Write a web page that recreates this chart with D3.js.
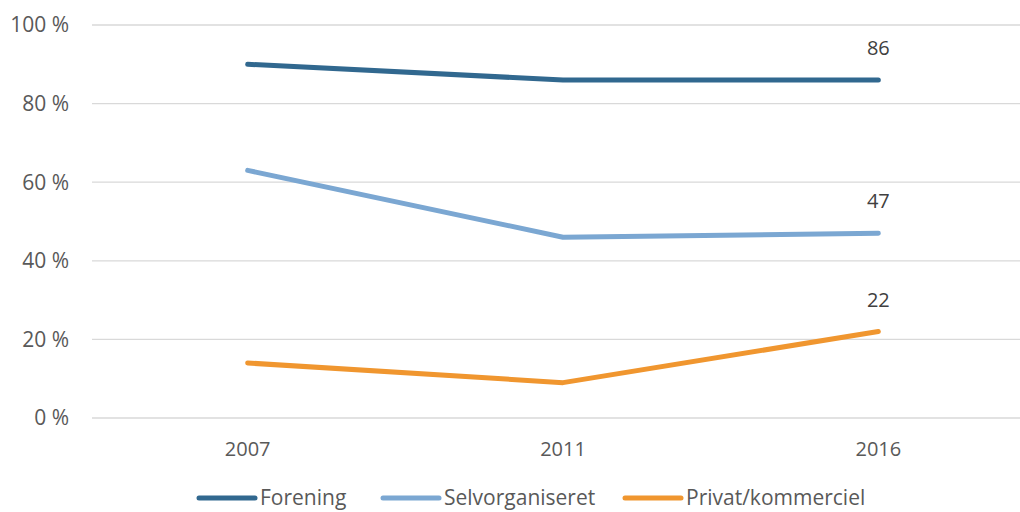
<!DOCTYPE html>
<html>
<head>
<meta charset="utf-8">
<script src="https://cdn.jsdelivr.net/npm/d3@7"></script>
<style>
  body { margin: 0; background: #fff; }
  svg { display: block; font-family: "Open Sans", sans-serif; }
</style>
</head>
<body>
<svg id="chart"></svg>
<script>
const years = ["2007", "2011", "2016"];
const forening = [90, 86, 86];
const selvorganiseret = [63, 46, 47];
const privat = [14, 9, 22];
const yTicks = [0, 20, 40, 60, 80, 100];

const series = [
  { name: "Forening", values: forening, color: "#31688f" },
  { name: "Selvorganiseret", values: selvorganiseret, color: "#7ba7d2" },
  { name: "Privat/kommerciel", values: privat, color: "#f0962f" }
];

const width = 1020, height = 512;
const svg = d3.select("#chart").attr("width", width).attr("height", height);

const x = d3.scaleBand().domain(years).range([90, 1036]);
const y = d3.scaleLinear().domain([0, 100]).range([418, 25]);

// gridlines
svg.append("g")
  .selectAll("line")
  .data(yTicks)
  .join("line")
  .attr("x1", 92).attr("x2", width)
  .attr("y1", d => y(d)).attr("y2", d => y(d))
  .attr("stroke", "#d9d9d9")
  .attr("stroke-width", 1.3);

// y labels
svg.append("g")
  .selectAll("text")
  .data(yTicks)
  .join("text")
  .attr("x", 69)
  .attr("y", d => y(d))
  .attr("dy", "0.35em")
  .attr("text-anchor", "end")
  .attr("fill", "#595959")
  .style("font-size", "21px")
  .text(d => d + " %");

// x labels
svg.append("g")
  .selectAll("text")
  .data(years)
  .join("text")
  .attr("x", d => x(d) + x.bandwidth() / 2)
  .attr("y", 449)
  .attr("dy", "0.35em")
  .attr("text-anchor", "middle")
  .attr("fill", "#595959")
  .style("font-size", "20px")
  .text(d => d);

const line = d3.line()
  .x((d, i) => x(years[i]) + x.bandwidth() / 2)
  .y(d => y(d));

svg.append("g")
  .selectAll("path")
  .data(series)
  .join("path")
  .attr("d", d => line(d.values))
  .attr("fill", "none")
  .attr("stroke", d => d.color)
  .attr("stroke-width", 5)
  .attr("stroke-linecap", "round")
  .attr("stroke-linejoin", "round");

// data labels on last point
svg.append("g")
  .selectAll("text")
  .data(series)
  .join("text")
  .attr("x", x(years[2]) + x.bandwidth() / 2)
  .attr("y", d => y(d.values[2]) - 32)
  .attr("dy", "0.35em")
  .attr("text-anchor", "middle")
  .attr("fill", "#404040")
  .style("font-size", "20px")
  .text(d => d.values[2]);

// legend (nudged up a little so descenders stay inside the frame)
const legendX = [199, 383, 625];
const legend = svg.append("g")
  .selectAll("g")
  .data(series)
  .join("g")
  .attr("transform", (d, i) => `translate(${legendX[i]},498)`);

legend.append("line")
  .attr("x1", 0).attr("x2", 56)
  .attr("stroke", d => d.color)
  .attr("stroke-width", 5)
  .attr("stroke-linecap", "round");

legend.append("text")
  .attr("x", 61)
  .attr("dy", "0.35em")
  .attr("fill", "#595959")
  .style("font-size", "21px")
  .text(d => d.name);
</script>
</body>
</html>
